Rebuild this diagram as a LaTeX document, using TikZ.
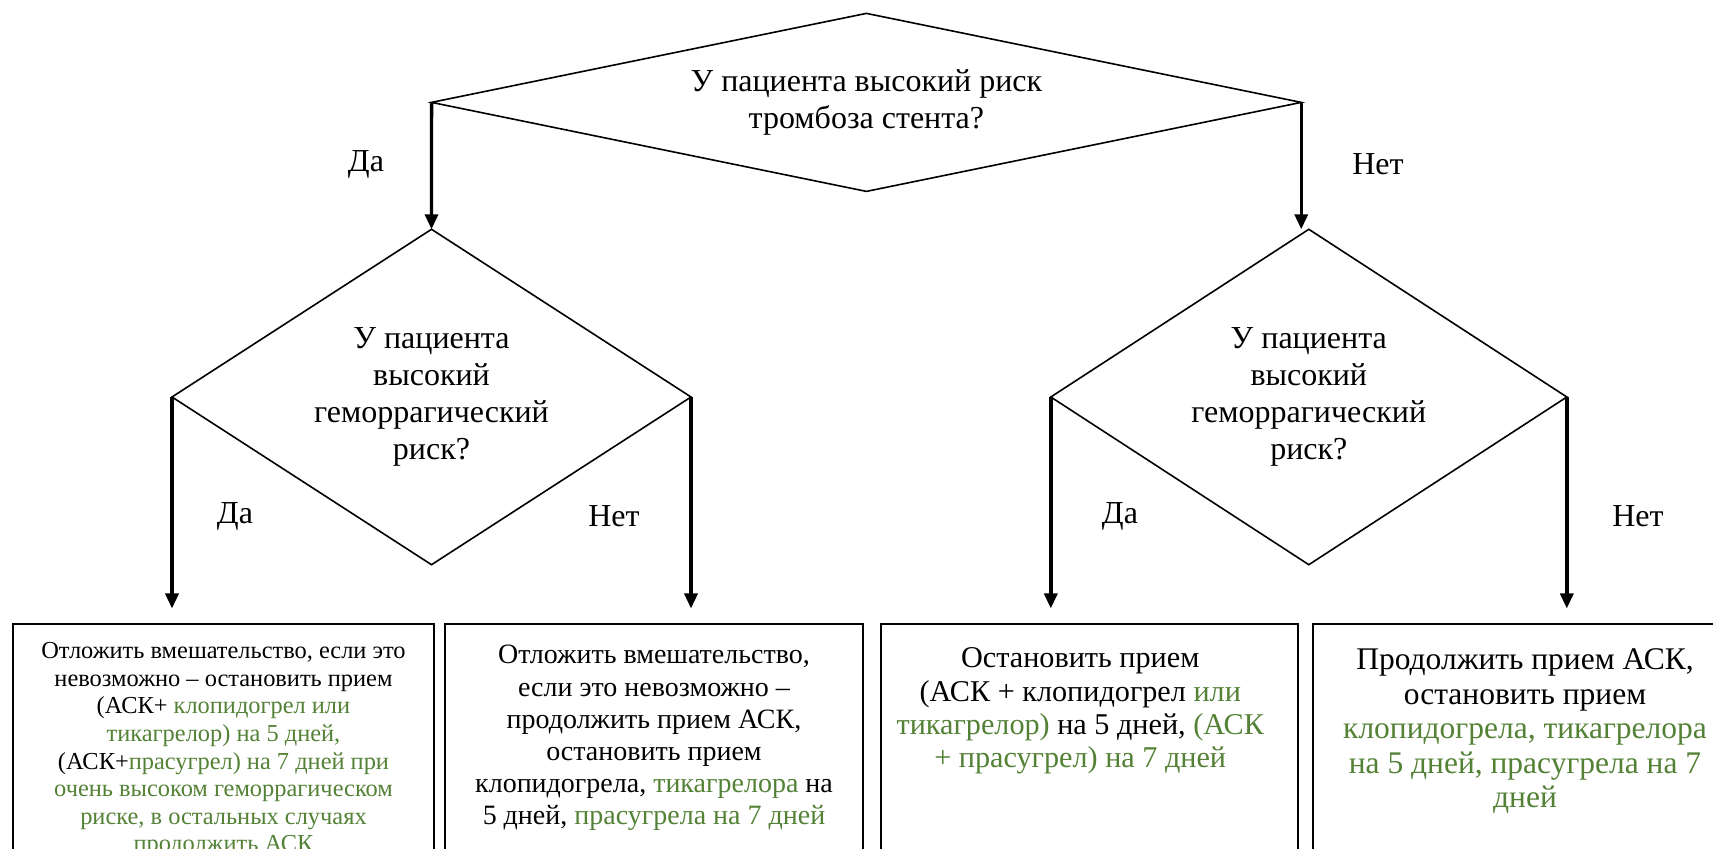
\documentclass[tikz,border=0pt]{standalone}
\usepackage{fontspec}
\setmainfont{Liberation Serif}
\usetikzlibrary{shapes.geometric}
\usetikzlibrary{arrows.meta}
\usetikzlibrary{positioning}
\definecolor{drug}{HTML}{538135}
\newcommand{\grn}[1]{\textcolor{drug}{#1}}
\tikzset{
semithick, % thin outlines by default
>={Triangle[length=7.5pt,width=6.5pt]}, % filled arrow tips
decision/.style={draw,diamond,inner sep=0pt,outer sep=0pt,line width=0.8pt,
  align=center,font=\fontsize{16}{18.5}\selectfont},
answer/.style={font=\fontsize{16}{18.5}\selectfont},
outbox/.style={draw,rectangle,line width=1pt,inner sep=0pt,outer sep=0pt,
  minimum height=150pt,anchor=north},
boxtext/.style={align=center,inner sep=0pt},
flow/.style={->,line width=1.7pt},
drop/.style={shorten >=7.75pt}
}
\begin{document}
\begin{tikzpicture}[x=0.5pt,y=-0.5pt]
\useasboundingbox (0,0) rectangle (1713,849);
% questions
\node[decision,shape aspect=4.9,minimum width=434.85pt,minimum height=89pt] (q1) at (866.4,102.4)
  {У пациента высокий риск\\тромбоза стента?};
\node[decision,shape aspect=1.55,minimum width=259.5pt,minimum height=167.7pt] (q2) at (431.5,397)
  {У пациента\\высокий\\геморрагический\\риск?};
\node[decision,shape aspect=1.55,minimum width=258pt,minimum height=167.7pt] (q3) at (1308.8,397)
  {У пациента\\высокий\\геморрагический\\риск?};
% outcome boxes
\node[outbox,minimum width=210.5pt] (b1) at (223.5,624) {};
\node[outbox,minimum width=209pt] (b2) at (654,624) {};
\node[outbox,minimum width=208.75pt] (b3) at (1089.25,624) {};
\node[outbox,minimum width=212pt] (b4) at (1525,624) {};
\node[boxtext,font=\fontsize{12.2}{13.8}\selectfont,below=9.1pt of b1.north] (t1)
  {Отложить вмешательство, если это\\
   невозможно – остановить прием\\
   (АСК+ \grn{клопидогрел или}\\
   \grn{тикагрелор) на 5 дней,}\\
   (АСК+\grn{прасугрел) на 7 дней при}\\
   \grn{очень высоком геморрагическом}\\
   \grn{риске, в остальных случаях}\\
   \grn{продолжить АСК}};
\node[boxtext,font=\fontsize{14}{16.1}\selectfont,below=10.5pt of b2.north] (t2)
  {Отложить вмешательство,\\
   если это невозможно –\\
   продолжить прием АСК,\\
   остановить прием\\
   клопидогрела, \grn{тикагрелора} на\\
   5 дней, \grn{прасугрела на 7 дней}};
\node[boxtext,font=\fontsize{15.1}{16.6}\selectfont,below=11.8pt of b3.north,xshift=-4.5pt] (t3)
  {Остановить прием\\
   (АСК + клопидогрел \grn{или}\\
   \grn{тикагрелор)} на 5 дней, \grn{(АСК}\\
   \grn{+ прасугрел) на 7 дней}};
\node[boxtext,font=\fontsize{15.75}{17.3}\selectfont,below=12.1pt of b4.north] (t4)
  {Продолжить прием АСК,\\
   остановить прием\\
   \grn{клопидогрела, тикагрелора}\\
   \grn{на 5 дней, прасугрела на 7}\\
   \grn{дней}};
% connectors
\draw[flow] (q1.west) -- (q2.north);
\draw[flow] (q1.east) -- (q1.east |- q3.north);
\draw[flow,drop] (q2.west) -- (q2.west |- b1.north);
\draw[flow,drop] (q2.east) -- (q2.east |- b2.north);
\draw[flow,drop] (q3.west) -- (q3.west |- b3.north);
\draw[flow,drop] (q3.east) -- (q3.east |- b4.north);
% answers
\node[answer] (yes1) at (366,164) {Да};
\node[answer] (no1) at (1378,164) {Нет};
\node[answer] (yes2) at (235,516) {Да};
\node[answer] (no2) at (614,516) {Нет};
\node[answer] (yes3) at (1120,516) {Да};
\node[answer] (no3) at (1638,516) {Нет};
\end{tikzpicture}
\end{document}
